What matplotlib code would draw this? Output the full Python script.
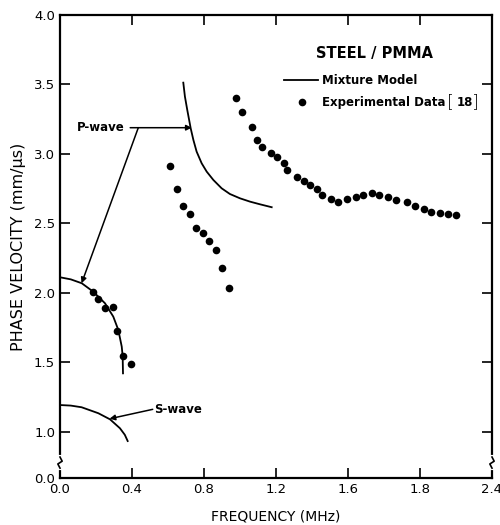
import numpy as np
import matplotlib
matplotlib.use("Agg")
import matplotlib.pyplot as plt

# experimental points
low_f = [0.183, 0.213, 0.250, 0.292, 0.318, 0.348, 0.396]
low_v = [2.004, 1.955, 1.894, 1.896, 1.730, 1.548, 1.486]

mid_f = [0.611, 0.652, 0.685, 0.722, 0.756, 0.796, 0.828, 0.867, 0.898, 0.940]
mid_v = [2.910, 2.748, 2.626, 2.567, 2.470, 2.430, 2.372, 2.309, 2.180, 2.038]

high_f = [0.976, 1.009, 1.065, 1.092, 1.121, 1.172, 1.207, 1.244, 1.261, 1.315,
          1.356, 1.389, 1.426, 1.454, 1.507, 1.546, 1.597, 1.643, 1.685, 1.732,
          1.772, 1.822, 1.868, 1.926, 1.972, 2.021, 2.062, 2.111, 2.157, 2.200]
high_v = [3.405, 3.304, 3.194, 3.104, 3.049, 3.009, 2.975, 2.933, 2.883, 2.831,
          2.809, 2.779, 2.750, 2.707, 2.678, 2.657, 2.674, 2.693, 2.707, 2.722,
          2.707, 2.687, 2.669, 2.653, 2.626, 2.602, 2.579, 2.573, 2.566, 2.558]

# mixture model curves
p1_f = [0.0, 0.060, 0.121, 0.185, 0.250, 0.296, 0.324, 0.343, 0.348, 0.350]
p1_v = [2.113, 2.098, 2.070, 2.009, 1.926, 1.830, 1.734, 1.614, 1.547, 1.422]

p2_f = [0.685, 0.694, 0.707, 0.726, 0.741, 0.759, 0.787, 0.815, 0.852, 0.898,
        0.944, 1.000, 1.056, 1.111, 1.176]
p2_v = [3.513, 3.413, 3.317, 3.185, 3.101, 3.017, 2.933, 2.873, 2.813, 2.753,
        2.712, 2.681, 2.657, 2.638, 2.617]

s_f = [0.0, 0.060, 0.120, 0.213, 0.278, 0.333, 0.360, 0.376]
s_v = [1.194, 1.190, 1.178, 1.135, 1.091, 1.027, 0.980, 0.935]

xticks = [0.0, 0.4, 0.8, 1.2, 1.6, 2.0, 2.4]
xlabels = ['0.0', '0.4', '0.8', '1.2', '1.6', '1.8', '2.4']
ybottom = 0.669
yticks = [ybottom, 1.0, 1.5, 2.0, 2.5, 3.0, 3.5, 4.0]
ylabels = ['0.0', '1.0', '1.5', '2.0', '2.5', '3.0', '3.5', '4.0']

fig = plt.figure(figsize=(5, 5.25), dpi=100)
ax = fig.add_axes([0.12, 0.0895, 0.864, 0.882])

ax.plot(p1_f, p1_v, color='black', lw=1.3)
ax.plot(p2_f, p2_v, color='black', lw=1.3)
ax.plot(s_f, s_v, color='black', lw=1.3)
for f, v in [(low_f, low_v), (mid_f, mid_v), (high_f, high_v)]:
    ax.plot(f, v, 'o', color='black', ms=5.5, mec='none')

ax.set_xlim(0, 2.4)
ax.set_ylim(ybottom, 4.0)
ax.set_xticks(xticks)
ax.set_xticklabels(xlabels)
ax.set_yticks(yticks)
ax.set_yticklabels(ylabels)
ax.tick_params(direction='in', length=7, width=1.2, top=True, right=True,
               labelsize=9.5)
for s in ax.spines.values():
    s.set_linewidth(1.6)

ax.set_xlabel('FREQUENCY (MHz)', fontsize=10, labelpad=10)
ax.set_ylabel('PHASE VELOCITY (mm/\u03bcs)', fontsize=11.5, labelpad=6)

# axis break marks
for xb in [0.0, 2.4]:
    ax.plot([xb, xb], [0.74, 0.82], color='white', lw=3, clip_on=False, zorder=5)
    ax.plot([xb, xb - 0.012, xb + 0.012, xb],
            [0.74, 0.77, 0.79, 0.82], color='black', lw=1.2, clip_on=False, zorder=6)

# P-wave / S-wave labels
ax.text(0.36, 3.19, 'P-wave', ha='right', va='center', fontsize=8.5, weight='bold')
ax.annotate('', xy=(0.732, 3.189), xytext=(0.39, 3.189),
            arrowprops=dict(arrowstyle='-|>', color='black', lw=1.1, mutation_scale=8,
                            shrinkA=0, shrinkB=0))
ax.annotate('', xy=(0.12, 2.07), xytext=(0.435, 3.189),
            arrowprops=dict(arrowstyle='-|>', color='black', lw=1.1, mutation_scale=8,
                            shrinkA=0, shrinkB=0))
ax.text(0.525, 1.16, 'S-wave', ha='left', va='center', fontsize=8.5, weight='bold')
ax.annotate('', xy=(0.275, 1.095), xytext=(0.515, 1.163),
            arrowprops=dict(arrowstyle='-|>', color='black', lw=1.1, mutation_scale=8,
                            shrinkA=0, shrinkB=0))

# legend block
ax.text(1.745, 3.724, 'STEEL / PMMA', ha='center', va='center', fontsize=10.5, weight='bold')
ax.plot([1.245, 1.435], [3.532, 3.532], color='black', lw=1.3)
ax.text(1.455, 3.532, 'Mixture Model', ha='left', va='center', fontsize=8.5, weight='bold')
ax.plot([1.343], [3.372], 'o', color='black', ms=5.5, mec='none')
ax.text(1.455, 3.372, 'Experimental Data', ha='left', va='center', fontsize=8.5, weight='bold')
ax.text(2.150, 3.372, '[', ha='left', va='center', fontsize=13, fontweight='light')
ax.text(2.203, 3.372, '18', ha='left', va='center', fontsize=8.5, weight='bold')
ax.text(2.290, 3.372, ']', ha='left', va='center', fontsize=13, fontweight='light')

fig.savefig('out.png', dpi=100)
